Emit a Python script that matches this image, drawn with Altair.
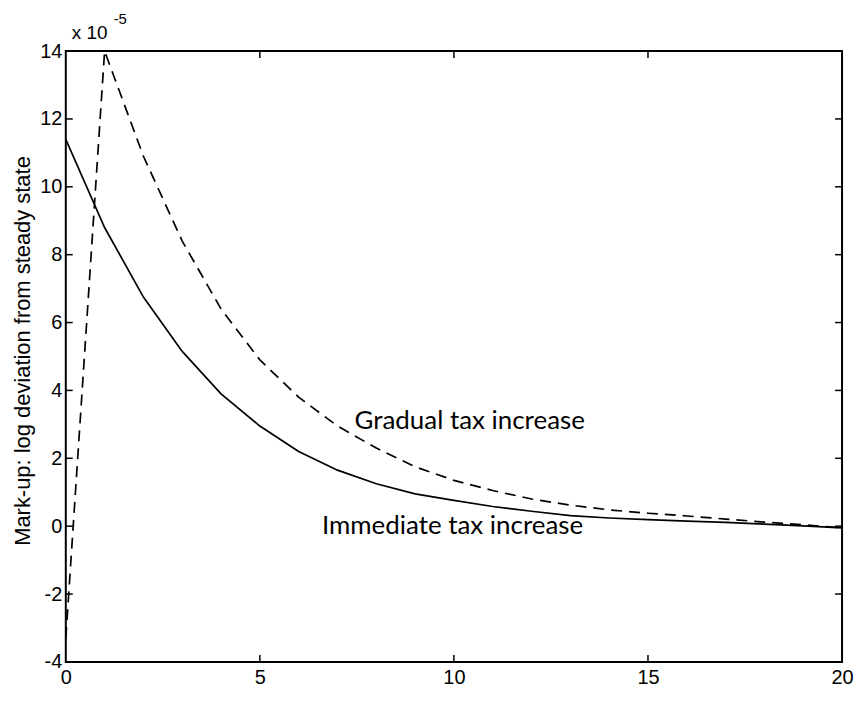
import altair as alt
import pandas as pd

# ---- data (values in units of 1e-5) ----
periods = list(range(21))
immediate = [11.4, 8.8, 6.75, 5.15, 3.9, 2.95, 2.2, 1.65, 1.25, 0.95, 0.76,
             0.58, 0.44, 0.31, 0.24, 0.19, 0.15, 0.11, 0.06, 0.01, -0.05]
gradual = [-3.3, 14.0, 10.9, 8.4, 6.4, 4.9, 3.8, 2.95, 2.3, 1.75, 1.35,
           1.05, 0.8, 0.62, 0.48, 0.38, 0.3, 0.21, 0.12, 0.04, -0.05]

x_ticks = [0, 5, 10, 15, 20]
y_ticks = [-4, -2, 0, 2, 4, 6, 8, 10, 12, 14]
inner_x_ticks = [5, 10, 15]
inner_y_ticks = [-2, 0, 2, 4, 6, 8, 10, 12]

label_names = ["Gradual tax increase", "Immediate tax increase"]
label_x = [7.44, 6.6]
label_y = [2.85, -0.23]

y_title = "Mark-up: log deviation from steady state"
exp_base = "x 10"
exp_power = "-5"

W, H = 779, 613
FONT = "Liberation Sans"

df = pd.DataFrame({"t": periods, "immediate": immediate, "gradual": gradual})
xt = pd.DataFrame({"v": inner_x_ticks})
yt = pd.DataFrame({"v": inner_y_ticks})
lab = pd.DataFrame({"name": label_names, "x": label_x, "y": label_y})

xscale = alt.Scale(domain=[0, 20], nice=False, zero=False)
yscale = alt.Scale(domain=[-4, 14], nice=False, zero=False)

xaxis = alt.Axis(values=x_ticks, ticks=False, domain=False, grid=False,
                 labelFlush=False, labelOverlap=False, labelFont=FONT,
                 labelFontSize=20, labelColor="black", labelPadding=6,
                 labelExpr="'' + datum.value", title=None)
yaxis = alt.Axis(values=y_ticks, ticks=False, domain=False, grid=False,
                 labelFlush=False, labelOverlap=False, labelFont=FONT,
                 labelFontSize=20, labelColor="black", labelPadding=4,
                 labelExpr="'' + datum.value",
                 title=y_title, titleFont=FONT, titleFontSize=22,
                 titleFontWeight="normal", titleColor="black",
                 titleX=-43, titleY=H / 2 - 6, titleAngle=270,
                 titleAlign="center", titleBaseline="middle")

base = alt.Chart(df)

solid = base.mark_line(color="black", strokeWidth=1.7).encode(
    x=alt.X("t:Q", scale=xscale, axis=xaxis),
    y=alt.Y("immediate:Q", scale=yscale, axis=yaxis),
)
dashed = base.mark_line(color="black", strokeWidth=1.7, strokeDash=[11, 7]).encode(
    x=alt.X("t:Q", scale=xscale),
    y=alt.Y("gradual:Q", scale=yscale),
)

tick_style = dict(color="black", strokeWidth=1.5)
bottom_ticks = alt.Chart(xt).mark_rule(**tick_style).encode(
    x=alt.X("v:Q", scale=xscale), y=alt.value(H - 7), y2=alt.value(H))
top_ticks = alt.Chart(xt).mark_rule(**tick_style).encode(
    x=alt.X("v:Q", scale=xscale), y=alt.value(0), y2=alt.value(7))
left_ticks = alt.Chart(yt).mark_rule(**tick_style).encode(
    y=alt.Y("v:Q", scale=yscale), x=alt.value(0), x2=alt.value(7))
right_ticks = alt.Chart(yt).mark_rule(**tick_style).encode(
    y=alt.Y("v:Q", scale=yscale), x=alt.value(W - 7), x2=alt.value(W))

labels = alt.Chart(lab).mark_text(font="Lato", fontSize=26, align="left",
                                  baseline="alphabetic", color="black").encode(
    x=alt.X("x:Q", scale=xscale), y=alt.Y("y:Q", scale=yscale), text="name:N")

expo1 = alt.Chart(pd.DataFrame({"s": [exp_base]})).mark_text(
    font=FONT, fontSize=19, align="left", baseline="alphabetic", color="black"
).encode(x=alt.value(6), y=alt.value(-12), text="s:N")
expo2 = alt.Chart(pd.DataFrame({"s": [exp_power]})).mark_text(
    font=FONT, fontSize=15, align="left", baseline="alphabetic", color="black"
).encode(x=alt.value(48), y=alt.value(-27), text="s:N")

chart = alt.layer(
    solid, dashed, bottom_ticks, top_ticks, left_ticks, right_ticks,
    labels, expo1, expo2
).properties(
    width=W, height=H,
    autosize=alt.AutoSizeParams(type="none"),
    padding={"left": 58, "top": 42, "right": 12, "bottom": 34},
    background="white",
).configure_view(stroke="black", strokeWidth=2)

chart.save("out.html", embed_options={"renderer": "svg", "actions": False})
